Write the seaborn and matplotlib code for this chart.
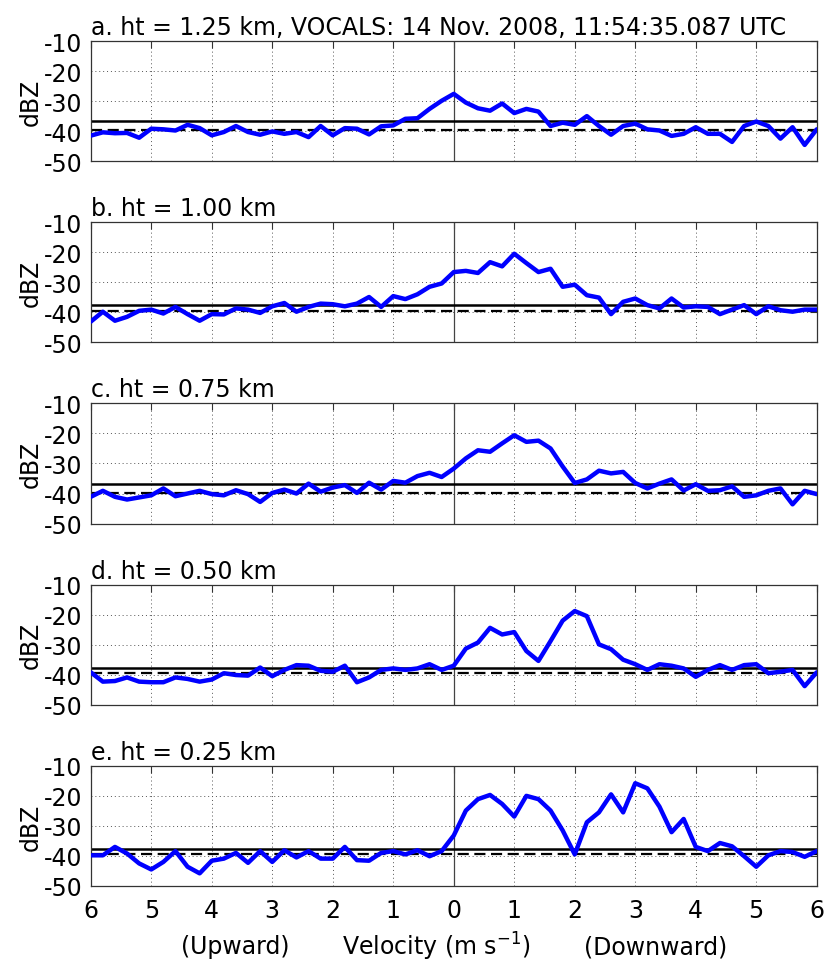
import numpy as np
import pandas as pd
import matplotlib
matplotlib.use('Agg')
import matplotlib.pyplot as plt
import seaborn as sns

# velocity bins (m/s), negative = upward
velocity = np.round(np.arange(-6, 6.01, 0.2), 1)

titles = ['a. ht = 1.25 km, VOCALS: 14 Nov. 2008, 11:54:35.087 UTC',
          'b. ht = 1.00 km', 'c. ht = 0.75 km', 'd. ht = 0.50 km', 'e. ht = 0.25 km']

dbz_125 = [-41.5, -40.4, -40.7, -40.6, -42.2, -39.2, -39.4, -39.8, -37.9, -39.0,
           -41.4, -40.3, -38.3, -40.3, -41.2, -40.1, -40.9, -40.3, -42.0, -38.3,
           -41.4, -39.0, -39.2, -41.1, -38.4, -38.1, -35.9, -35.7, -32.6, -29.9,
           -27.6, -30.5, -32.4, -33.2, -30.8, -34.0, -32.6, -33.5, -38.3, -37.2,
           -37.9, -35.0, -38.3, -41.2, -38.3, -37.5, -39.4, -39.8, -41.6, -40.9,
           -38.7, -40.9, -40.9, -43.6, -38.3, -36.8, -38.3, -42.5, -38.7, -44.6, -39.4]
dbz_100 = [-43.1, -39.8, -42.8, -41.5, -39.5, -39.1, -40.4, -38.2, -40.6, -42.8,
           -40.6, -40.7, -38.7, -39.1, -40.2, -38.0, -36.9, -39.8, -38.2, -37.1,
           -37.3, -38.0, -37.1, -34.9, -38.2, -34.6, -35.6, -34.0, -31.5, -30.4,
           -26.6, -26.2, -26.9, -23.3, -24.7, -20.5, -23.6, -26.6, -25.5, -31.5,
           -30.8, -34.3, -35.1, -40.6, -36.5, -35.4, -37.6, -38.7, -35.4, -38.4,
           -38.0, -38.2, -40.6, -39.1, -37.6, -40.6, -38.0, -39.3, -39.8, -39.1, -39.1]
dbz_075 = [-41.1, -39.1, -41.1, -42.0, -41.3, -40.6, -38.3, -40.9, -40.0, -39.1,
           -40.2, -40.6, -38.9, -40.2, -42.8, -39.8, -38.7, -40.0, -36.7, -39.4,
           -38.0, -37.2, -39.8, -36.4, -38.7, -35.8, -36.4, -34.2, -33.1, -34.5,
           -31.7, -28.3, -25.6, -26.1, -23.3, -20.6, -22.8, -22.4, -25.0, -31.0,
           -36.5, -35.3, -32.4, -33.3, -32.8, -36.5, -38.3, -36.7, -35.3, -39.0,
           -36.9, -39.1, -38.9, -37.6, -41.1, -40.6, -39.1, -38.3, -43.6, -39.1, -40.2]
dbz_050 = [-39.2, -42.3, -42.1, -40.9, -42.3, -42.5, -42.5, -40.9, -41.4, -42.3,
           -41.6, -39.5, -40.1, -40.3, -37.6, -40.5, -38.4, -36.8, -37.0, -38.7,
           -39.0, -37.0, -42.5, -40.9, -38.4, -37.9, -38.4, -37.9, -36.5, -38.4,
           -37.0, -31.3, -29.3, -24.4, -26.6, -25.8, -32.1, -35.4, -28.8, -22.0,
           -18.8, -20.5, -29.9, -31.5, -35.0, -36.5, -38.4, -36.5, -37.0, -37.9,
           -40.7, -38.4, -36.8, -38.4, -36.8, -36.5, -39.5, -39.0, -38.4, -43.8, -39.2]
dbz_025 = [-39.8, -39.8, -37.0, -39.2, -42.5, -44.5, -42.0, -38.4, -43.6, -45.8,
           -41.6, -40.9, -39.0, -42.3, -38.4, -42.0, -38.1, -40.5, -38.4, -40.9,
           -40.9, -37.0, -41.4, -41.6, -39.0, -38.4, -39.5, -38.1, -40.1, -38.4,
           -33.2, -24.9, -21.1, -19.7, -22.7, -26.9, -20.0, -21.1, -24.9, -31.5,
           -39.5, -28.8, -25.5, -19.5, -25.5, -15.8, -17.5, -23.6, -32.1, -27.7,
           -37.0, -38.4, -35.7, -36.8, -40.1, -43.6, -39.8, -38.4, -38.7, -40.3, -38.4]
panels = [dbz_125, dbz_100, dbz_075, dbz_050, dbz_025]

# noise level (solid) and threshold (dashed) for each height
noise_level = [-36.7, -37.6, -36.8, -37.6, -37.8]
noise_thresh = [-39.5, -39.6, -39.8, -39.5, -39.5]

sns.set_style('white')
plt.rcParams['font.family'] = ['DejaVu Sans']
plt.rcParams['axes.unicode_minus'] = False
plt.rcParams['text.color'] = 'black'
plt.rcParams['axes.labelcolor'] = 'black'
plt.rcParams['xtick.color'] = 'black'
plt.rcParams['ytick.color'] = 'black'
fs = 17

fig, axes = plt.subplots(5, 1, figsize=(8.25, 9.7), dpi=100)
fig.subplots_adjust(left=0.110, right=0.990, top=0.9567, bottom=0.0856, hspace=0.508)

for i, ax in enumerate(axes):
    df = pd.DataFrame({'v': velocity, 'dbz': panels[i]})
    ax.grid(True, linestyle=(0, (1, 3)), color='#555555', linewidth=0.7)
    ax.axvline(0, color='#444444', linewidth=0.9, zorder=1)
    ax.axhline(noise_level[i], color='black', linewidth=1.8, zorder=2)
    ax.axhline(noise_thresh[i], color='black', linewidth=1.6, linestyle=(0, (5, 2.5)), zorder=2)
    sns.lineplot(data=df, x='v', y='dbz', ax=ax, color='#0000ff', linewidth=3.2, zorder=3)
    ax.set_xlim(-6, 6)
    ax.set_ylim(-50, -10)
    ax.set_yticks([-50, -40, -30, -20, -10])
    ax.set_xticks(np.arange(-6, 7, 1))
    ax.set_xticklabels([str(abs(t)) for t in range(-6, 7)] if i == 4 else [])
    ax.tick_params(direction='in', length=5, labelsize=fs, top=True, right=True,
                   color='#333333')
    ax.tick_params(axis='y', pad=6)
    ax.tick_params(axis='x', pad=9)
    for sp in ax.spines.values():
        sp.set_color('#333333')
        sp.set_linewidth(0.9)
    ax.set_xlabel('')
    ax.set_ylabel('dBZ', fontsize=fs, labelpad=1)
    ax.set_title(titles[i], loc='left', fontsize=fs, pad=5)

ax = axes[-1]
ax.text(0.199, -0.50, '(Upward)', transform=ax.transAxes, ha='center', va='center', fontsize=fs)
ax.text(0.476, -0.50, r'Velocity (m s$^{\mathregular{-1}}$)', transform=ax.transAxes,
        ha='center', va='center', fontsize=fs)
ax.text(0.778, -0.50, '(Downward)', transform=ax.transAxes, ha='center', va='center', fontsize=fs)

fig.savefig('out.png', dpi=100)
